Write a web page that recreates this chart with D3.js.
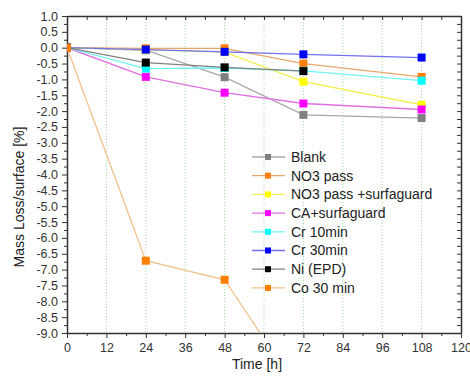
<!DOCTYPE html>
<html>
<head>
<meta charset="utf-8">
<script src="https://cdn.jsdelivr.net/npm/d3@7"></script>
<style>
  body { margin: 0; background: #fff; }
  svg { display: block; font-family: "Liberation Sans", Arial, sans-serif; }
</style>
</head>
<body>
<div id="graphic"></div>
<script>
// data
var hours = [0, 24, 48, 72, 108];
var blank      = [0, -0.08, -0.93, -2.12, -2.22];
var no3pass    = [0, -0.02, -0.02, -0.50, -0.92];
var no3surf    = [0, -0.07, -0.14, -1.07, -1.80];
var caSurf     = [0, -0.92, -1.42, -1.76, -1.95];
var cr10       = [0, -0.66, -0.64, -0.73, -1.04];
var cr30       = [0, -0.06, -0.13, -0.21, -0.31];
var niEpd      = [0, -0.47, -0.62, -0.74];
var co30       = [0, -6.72, -7.32, -11.05];

var seriesNames = ["Blank", "NO3 pass", "NO3 pass +surfaguard", "CA+surfaguard",
                   "Cr 10min", "Cr 30min", "Ni (EPD)", "Co 30 min"];
var seriesValues = [blank, no3pass, no3surf, caSurf, cr10, cr30, niEpd, co30];
var markColors = ["#808080", "#ff7f0e", "#ffff00", "#ff00ff", "#00ffff", "#0000ff", "#000000", "#ff8000"];
var lineColors = ["#a8a8a8", "#e9a66a", "#f5f050", "#e070e0", "#70f5f5", "#7070f0", "#808080", "#f2c08c"];

var xTicks = d3.range(0, 121, 12);
var yTicks = d3.range(-9, 1.01, 0.5);

var W = 470, H = 380;
var margin = {top: 16, right: 9, bottom: 47, left: 67};

var svg = d3.select("#graphic").append("svg").attr("width", W).attr("height", H);

var x = d3.scaleLinear().domain([0, 120]).range([margin.left, W - margin.right]);
var y = d3.scaleLinear().domain([-9, 1]).range([H - margin.bottom, margin.top]);

svg.append("defs").append("clipPath").attr("id", "clip")
  .append("rect")
  .attr("x", x(0)).attr("y", y(1))
  .attr("width", x(120) - x(0)).attr("height", y(-9) - y(1));

// green dotted grid
svg.append("g").selectAll("line")
  .data(xTicks.filter(function(d){ return d > 0 && d < 120; }))
  .enter().append("line")
  .attr("x1", function(d){ return x(d); }).attr("x2", function(d){ return x(d); })
  .attr("y1", y(1)).attr("y2", y(-9))
  .attr("stroke", "#9edc9e").attr("stroke-width", 1).attr("stroke-dasharray", "1,2");

// axes
var tickColor = "#333";
function styleAxis(g) {
  g.selectAll("path").attr("stroke", tickColor).attr("stroke-width", 1.5);
  g.selectAll("line").attr("stroke", tickColor);
  g.selectAll("text").attr("fill", "#333").attr("font-size", 12.5);
}

var xAxisG = svg.append("g").attr("transform", "translate(0," + y(-9) + ")")
  .call(d3.axisBottom(x).tickValues(xTicks).tickSize(5).tickSizeOuter(0).tickPadding(5));
styleAxis(xAxisG);
svg.append("g").attr("transform", "translate(0," + y(-9) + ")")
  .call(d3.axisBottom(x).tickValues(d3.range(6, 120, 12)).tickSize(3).tickFormat(""))
  .call(function(g){ g.select("path").remove(); g.selectAll("line").attr("stroke", tickColor); });

var yAxisG = svg.append("g").attr("transform", "translate(" + x(0) + ",0)")
  .call(d3.axisLeft(y).tickValues(yTicks).tickSize(5).tickSizeOuter(0).tickPadding(4)
    .tickFormat(function(d){ return d3.format(".1f")(d).replace("\u2212", "-"); }));
styleAxis(yAxisG);
svg.append("g").attr("transform", "translate(" + x(0) + ",0)")
  .call(d3.axisLeft(y).tickValues(d3.range(-8.75, 1, 0.5)).tickSize(3).tickFormat(""))
  .call(function(g){ g.select("path").remove(); g.selectAll("line").attr("stroke", tickColor); });

// top and right mirrored axes, ticks inside
var topAxisG = svg.append("g").attr("transform", "translate(0," + y(1) + ")")
  .call(d3.axisBottom(x).tickValues(d3.range(0, 121, 6)).tickSize(4).tickSizeOuter(0).tickFormat(""));
styleAxis(topAxisG);
var rightAxisG = svg.append("g").attr("transform", "translate(" + x(120) + ",0)")
  .call(d3.axisLeft(y).tickValues(d3.range(-9, 1.01, 0.25)).tickSize(4).tickSizeOuter(0).tickFormat(""));
styleAxis(rightAxisG);

// axis titles
svg.append("text").attr("x", 257).attr("y", 369).attr("text-anchor", "middle")
  .attr("font-size", 14).attr("fill", "#222").text("Time [h]");
svg.append("text").attr("transform", "translate(24,197) rotate(-90)").attr("text-anchor", "middle")
  .attr("font-size", 14).attr("fill", "#222").text("Mass Loss/surface [%]");

// series
var line = d3.line()
  .x(function(d){ return x(d[0]); })
  .y(function(d){ return y(d[1]); });

var plot = svg.append("g").attr("clip-path", "url(#clip)");
var ms = 8;
seriesValues.forEach(function(vals, i) {
  var pts = vals.map(function(v, j){ return [hours[j], v]; });
  plot.append("path").datum(pts)
    .attr("d", line).attr("fill", "none")
    .attr("stroke", lineColors[i]).attr("stroke-width", 1.3);
  plot.selectAll(null).data(pts).enter().append("rect")
    .attr("x", function(d){ return x(d[0]) - ms / 2; })
    .attr("y", function(d){ return y(d[1]) - ms / 2; })
    .attr("width", ms).attr("height", ms)
    .attr("fill", markColors[i]);
});

// legend
var legend = svg.append("g").attr("transform", "translate(252,157)");
var spacing = 18.7;
var rows = legend.selectAll("g").data(seriesNames).enter().append("g")
  .attr("transform", function(d, i){ return "translate(0," + (i * spacing) + ")"; });
rows.append("line")
  .attr("x1", 0).attr("x2", 33).attr("y1", 0).attr("y2", 0)
  .attr("stroke", function(d, i){ return lineColors[i]; }).attr("stroke-width", 1.3);
rows.append("rect")
  .attr("x", 13).attr("y", -3).attr("width", 6).attr("height", 6)
  .attr("fill", function(d, i){ return markColors[i]; });
rows.append("text")
  .attr("x", 39).attr("y", 0).attr("dy", "0.35em")
  .attr("font-size", 14).attr("fill", "#222")
  .text(function(d){ return d; });
</script>
</body>
</html>
